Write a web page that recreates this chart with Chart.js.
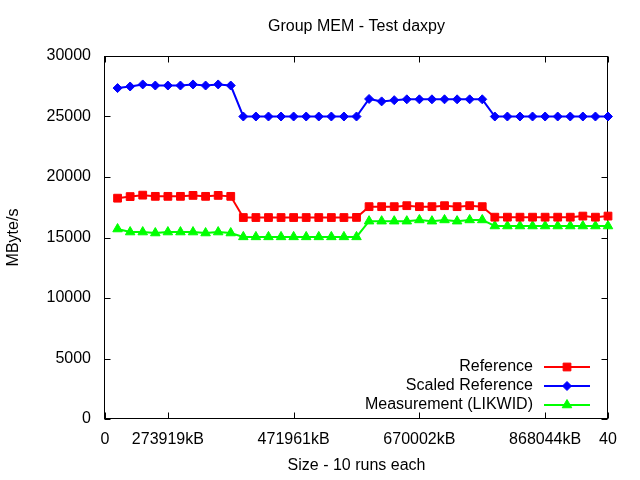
<!DOCTYPE html>
<html>
<head>
<meta charset="utf-8">
<script src="https://cdn.jsdelivr.net/npm/chart.js@4.4.1/dist/chart.umd.min.js"></script>
<style>html,body{margin:0;background:#fff}</style>
</head>
<body>
<canvas id="chart" width="640" height="480"></canvas>
<script>
const runs = [1,2,3,4,5,6,7,8,9,10,11,12,13,14,15,16,17,18,19,20,21,22,23,24,25,26,27,28,29,30,31,32,33,34,35,36,37,38,39,40];
const reference = [18250,18380,18500,18400,18400,18400,18480,18400,18480,18400,
  16650,16650,16650,16650,16650,16650,16650,16650,16650,16660,
  17550,17550,17550,17630,17550,17550,17630,17550,17630,17550,
  16680,16680,16680,16680,16680,16680,16680,16770,16680,16770];
const scaledReference = [27350,27480,27650,27560,27560,27560,27650,27560,27650,27560,
  25000,25000,25000,25000,25000,25000,25000,25000,25000,25000,
  26450,26250,26350,26420,26420,26420,26420,26420,26420,26420,
  25000,25000,25000,25000,25000,25000,25000,25000,25000,25000];
const measurement = [15700,15450,15450,15370,15450,15450,15450,15370,15450,15370,
  15050,15050,15050,15050,15050,15050,15050,15050,15050,15050,
  16350,16350,16350,16350,16450,16350,16450,16350,16450,16450,
  15950,15950,15950,15950,15950,15950,15950,15950,15950,15950];
const xTickValues = [0, 5, 15, 25, 35, 40];
const xTickLabels = ["0", "273919kB", "471961kB", "670002kB", "868044kB", "40"];

const FONT = "'Liberation Sans', Arial, sans-serif";
Chart.defaults.font.family = FONT;
Chart.defaults.font.size = 16;
Chart.defaults.color = "#000";

function toPoints(ys) {
  return runs.map((x, i) => ({ x: x, y: ys[i] }));
}

// gnuplot-like frame, inner ticks, title and key
const gnuplotLook = {
  id: "gnuplotLook",
  beforeDatasetsDraw(chart) {
    const { ctx, chartArea: a, scales } = chart;
    ctx.save();
    ctx.strokeStyle = "#000";
    ctx.lineWidth = 1;
    const l = Math.round(a.left) - 0.5, r = Math.round(a.right) - 0.5;
    const t = Math.round(a.top) + 0.5, b = Math.round(a.bottom) - 0.5;
    ctx.strokeRect(l, t, r - l, b - t);
    ctx.beginPath();
    xTickValues.forEach((v) => {
      const px = Math.round(scales.x.getPixelForValue(v)) + 0.5;
      ctx.moveTo(px, b); ctx.lineTo(px, b - 6);
      ctx.moveTo(px, t); ctx.lineTo(px, t + 6);
    });
    scales.y.ticks.forEach((tk) => {
      const py = Math.round(scales.y.getPixelForValue(tk.value)) + 0.5;
      ctx.moveTo(l, py); ctx.lineTo(l + 6, py);
      ctx.moveTo(r, py); ctx.lineTo(r - 6, py);
    });
    ctx.stroke();
    ctx.restore();
  },
  afterDraw(chart) {
    const { ctx, chartArea: a } = chart;
    ctx.save();
    ctx.fillStyle = "#000";
    ctx.font = "16px " + FONT;
    ctx.textAlign = "center";
    ctx.textBaseline = "middle";
    ctx.fillText("Group MEM - Test daxpy", (a.left + a.right) / 2, 27);

    const rows = [367, 386, 405];
    chart.data.datasets.forEach((ds, i) => {
      const y = rows[i];
      ctx.fillStyle = "#000";
      ctx.textAlign = "right";
      ctx.fillText(ds.label, 533, y);
      ctx.strokeStyle = ds.borderColor;
      ctx.lineWidth = 2;
      ctx.beginPath();
      ctx.moveTo(544, y); ctx.lineTo(590, y);
      ctx.stroke();
      ctx.fillStyle = ds.backgroundColor;
      ctx.lineWidth = 1;
      Chart.helpers.drawPoint(ctx, {
        pointStyle: ds.pointStyle, radius: ds.pointRadius, borderWidth: 1, rotation: 0
      }, 567, y);
    });
    ctx.restore();
  }
};

new Chart(document.getElementById("chart").getContext("2d"), {
  type: "line",
  data: {
    datasets: [
      { label: "Reference", data: toPoints(reference), borderColor: "#ff0000", backgroundColor: "#ff0000",
        pointStyle: "rect", pointRadius: 5.5, borderWidth: 2, pointBorderWidth: 1 },
      { label: "Scaled Reference", data: toPoints(scaledReference), borderColor: "#0000ff", backgroundColor: "#0000ff",
        pointStyle: "rectRot", pointRadius: 4.5, borderWidth: 2, pointBorderWidth: 1 },
      { label: "Measurement (LIKWID)", data: toPoints(measurement), borderColor: "#00ff00", backgroundColor: "#00ff00",
        pointStyle: "triangle", pointRadius: 5.5, borderWidth: 2, pointBorderWidth: 1 },
    ],
  },
  options: {
    responsive: false,
    animation: false,
    devicePixelRatio: 1,
    layout: { padding: { top: 56, right: 32, bottom: 0, left: 0 } },
    elements: { line: { tension: 0 } },
    datasets: { line: { clip: false } },
    plugins: { legend: { display: false }, tooltip: { enabled: false } },
    scales: {
      x: {
        type: "linear",
        min: 0,
        max: 40,
        afterFit(scale) { scale.height = 61; },
        afterBuildTicks(scale) { scale.ticks = xTickValues.map((v) => ({ value: v })); },
        grid: { display: false },
        border: { display: false },
        ticks: {
          autoSkip: false,
          maxRotation: 0,
          padding: 3,
          callback: (v) => xTickLabels[xTickValues.indexOf(v)],
        },
        title: { display: true, text: "Size - 10 runs each", padding: { top: 0, bottom: 5 } },
      },
      y: {
        min: 0,
        max: 30000,
        afterFit(scale) { scale.width = 105; },
        grid: { display: false },
        border: { display: false },
        ticks: { stepSize: 5000, padding: 6, callback: (v) => String(v) },
        title: { display: true, text: "MByte/s", padding: { top: 4, bottom: 0 } },
      },
    },
  },
  plugins: [gnuplotLook],
});
</script>
</body>
</html>
